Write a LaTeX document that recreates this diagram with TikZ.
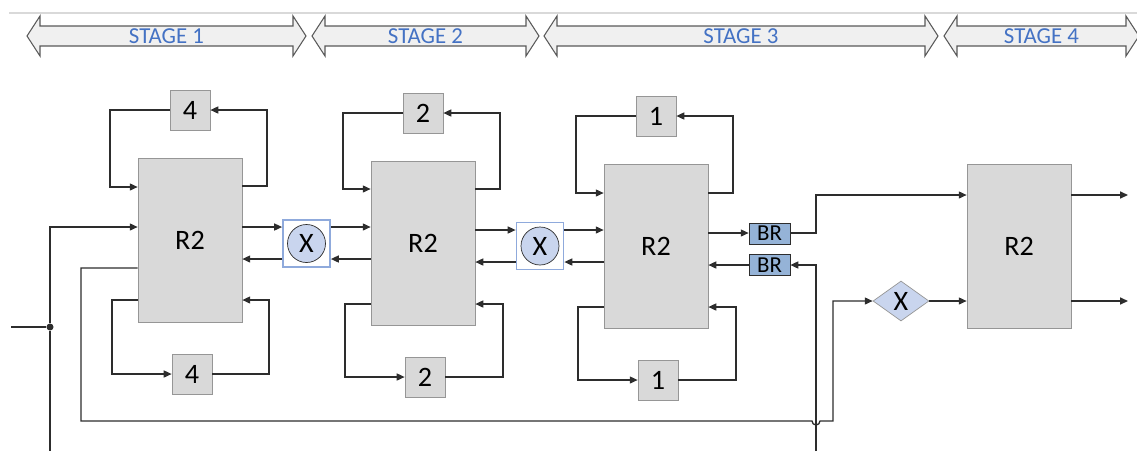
\documentclass[tikz,border=0pt]{standalone}
\usepackage{fontspec}
\setmainfont{Carlito}
\usetikzlibrary{shapes.geometric, arrows.meta, positioning, calc}
\definecolor{boxgray}{RGB}{217,217,217}
\definecolor{edgegray}{RGB}{150,150,150}
\definecolor{mixblue}{RGB}{201,213,238}
\definecolor{frameblue}{RGB}{143,170,220}
\definecolor{brblue}{RGB}{149,179,215}
\definecolor{stageblue}{RGB}{68,114,196}
\definecolor{stagefill}{RGB}{240,240,240}
\definecolor{wire}{RGB}{45,45,45}

\tikzset{
  rtwo/.style={draw=edgegray, fill=boxgray, minimum width=2.08cm, minimum height=3.28cm, inner sep=0pt, font=\fontsize{16}{18}\selectfont},
  delay/.style={draw=edgegray, fill=boxgray, minimum size=0.8cm, inner sep=0pt, font=\fontsize{16}{18}\selectfont},
  mixframe/.style={draw=frameblue, line width=1pt, minimum size=0.94cm, inner sep=0pt},
  mixcirc/.style={circle, draw=wire, fill=mixblue, minimum size=0.76cm, inner sep=0pt, font=\fontsize{16}{18}\selectfont},
  brbox/.style={draw=wire, fill=brblue, minimum width=0.82cm, minimum height=0.42cm, inner sep=0pt, font=\fontsize{13}{15}\selectfont},
  mixdia/.style={diamond, draw=edgegray, fill=mixblue, minimum width=1.12cm, minimum height=0.8cm, inner sep=0pt, font=\fontsize{16}{18}\selectfont},
  wire/.style={draw=wire, line width=0.75pt},
  arr/.style={wire, -{Triangle[length=4.5pt,width=4pt]}},
  stagebar/.style={draw=black!65, fill=stagefill, line width=0.6pt},
}

\begin{document}
\begin{tikzpicture}[x=0.02cm, y=-0.02cm]
\useasboundingbox (0,0) rectangle (1137,451);

% Stage banner
\draw[black!15, line width=0.8pt] (9,13) -- (1137,13);
\foreach \a/\b/\t in {27/306/1, 312/539/2, 544/938/3, 944/1139/4} {
  \draw[stagebar] (\a,36) -- (\a+13,16) -- (\a+13,26) -- (\b-13,26) -- (\b-13,16)
    -- (\b,36) -- (\b-13,56) -- (\b-13,46) -- (\a+13,46) -- (\a+13,56) -- cycle;
  \node[text=stageblue, font=\fontsize{13}{15}\selectfont] (stage\t) at ({(\a+\b)/2},36.5) {STAGE \t};
}

% Blocks
\node[rtwo] (r1) at (190,240) {R2};
\node[rtwo] (r2) at (423,243) {R2};
\node[rtwo] (r3) at (656,246) {R2};
\node[rtwo] (r4) at (1019,246.5) {R2};

\node[delay] (d1t) at (190,110) {4};
\node[delay] (d1b) at (192,374) {4};
\node[delay] (d2t) at (423,113) {2};
\node[delay] (d2b) at (425,377) {2};
\node[delay] (d3t) at (656,116) {1};
\node[delay] (d3b) at (658,380) {1};

\node[mixframe] (m1) at (306.5,243.5) {};
\node[mixcirc] (c1) at (m1) {X};
\node[mixframe] (m2) at (540,246) {};
\node[mixcirc] (c2) at (m2) {X};

\node[brbox] (br1) at (769.5,233.5) {BR};
\node[brbox] (br2) at (769.5,265) {BR};
\node[mixdia] (dia) at (901,301) {X};

\node[circle, fill=wire, inner sep=0pt, minimum size=4pt] (dot) at (50,327) {};
\coordinate (src) at (11,327);
\coordinate (srcend) at (50,451);
\coordinate (fbend) at (816,451);
\coordinate (out1) at (1128,195);
\coordinate (out2) at (1128,301);

% Input split
\draw[wire] (src) -- (dot);
\draw[wire] (dot) -- (srcend);
\draw[arr] (dot) |- (r1.west |- 0,227);

% Stage 1
\draw[arr] (d1t.west) -- (110,110) |- (r1.west |- 0,187);
\draw[arr] (r1.east |- 0,186) -- (267,186) |- (d1t.east);
\draw[arr] (r1.west |- 0,300) -- (112,300) |- (d1b.west);
\draw[arr] (d1b.east) -- (269,374) |- (r1.east |- 0,300);
\draw[arr] (r1.east |- 0,227) -- (m1.west |- 0,227);
\draw[arr] (m1.west |- 0,259) -- (r1.east |- 0,259);
\draw[arr] (m1.east |- 0,227) -- (r2.west |- 0,227);
\draw[arr] (r2.west |- 0,259) -- (m1.east |- 0,259);

% Stage 2
\draw[arr] (d2t.west) -- (343,113) |- (r2.west |- 0,189);
\draw[arr] (r2.east |- 0,189) -- (500,189) |- (d2t.east);
\draw[arr] (r2.west |- 0,304) -- (345,304) |- (d2b.west);
\draw[arr] (d2b.east) -- (503,377) |- (r2.east |- 0,304);
\draw[arr] (r2.east |- 0,230) -- (m2.west |- 0,230);
\draw[arr] (m2.west |- 0,262) -- (r2.east |- 0,262);
\draw[arr] (m2.east |- 0,230) -- (r3.west |- 0,230);
\draw[arr] (r3.west |- 0,262) -- (m2.east |- 0,262);

% Stage 3
\draw[arr] (d3t.west) -- (576,116) |- (r3.west |- 0,193);
\draw[arr] (r3.east |- 0,193) -- (733,193) |- (d3t.east);
\draw[arr] (r3.west |- 0,307) -- (578,307) |- (d3b.west);
\draw[arr] (d3b.east) -- (736,380) |- (r3.east |- 0,307);
\draw[arr] (r3.east |- 0,233) -- (br1.west |- 0,233);
\draw[arr] (br2.west) -- (r3.east |- br2.west);
\draw[arr] (br1.east |- 0,233) -- (816,233) |- (r4.west |- 0,195);
\draw[arr] (fbend) |- (br2.east);

% Long feedback, hopping over the BR return
\draw[arr] (r1.west |- 0,268) -- (81,268) |- (812,421)
  arc[start angle=180, end angle=0, radius=4] -- (833,421) |- (dia.west);
\draw[arr] (dia.east) -- (r4.west |- dia.east);

% Stage 4 outputs
\draw[arr] (r4.east |- out1) -- (out1);
\draw[arr] (r4.east |- out2) -- (out2);
\end{tikzpicture}
\end{document}
